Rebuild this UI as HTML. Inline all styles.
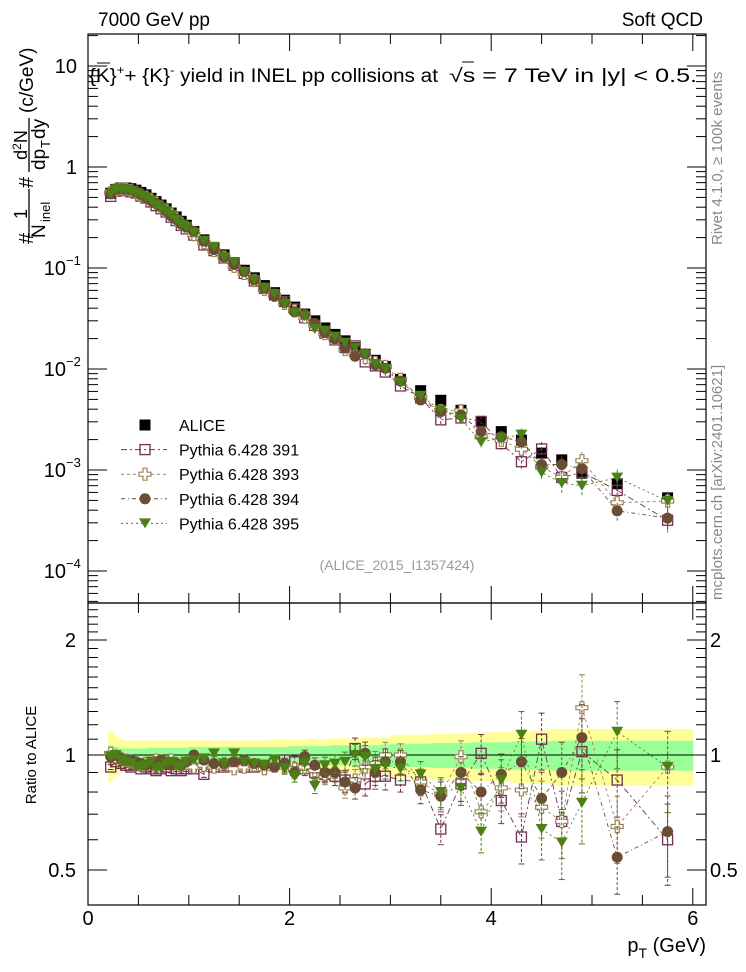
<!DOCTYPE html>
<html><head><meta charset="utf-8"><style>
html,body{margin:0;padding:0;background:#fff;}
svg{display:block;font-family:"Liberation Sans",sans-serif;}
</style></head><body>
<svg id="c" width="746" height="972" viewBox="0 0 746 972"></svg>
<script>
const pt=[0.225,0.275,0.325,0.375,0.425,0.475,0.525,0.575,0.625,0.675,0.725,0.775,0.825,0.875,0.925,0.975,
1.05,1.15,1.25,1.35,1.45,1.55,1.65,1.75,1.85,1.95,2.05,2.15,2.25,2.35,2.45,2.55,2.65,2.75,2.85,2.95,
3.1,3.3,3.5,3.7,3.9,4.1,4.3,4.5,4.7,4.9,5.25,5.75];
const alice=[0.55,0.60,0.62,0.62,0.61,0.59,0.56,0.53,0.49,0.455,0.42,0.385,0.35,0.32,0.29,0.265,
0.23,0.19,0.16,0.135,0.113,0.095,0.080,0.067,0.057,0.048,0.041,0.035,0.030,0.0255,0.022,0.019,0.0163,0.014,0.0122,0.0106,
0.0079,0.0061,0.0049,0.0039,0.0030,0.0024,0.00198,0.00147,0.00126,0.00093,0.00073,0.00053];
const r391=[0.93,0.96,0.95,0.94,0.93,0.94,0.92,0.93,0.92,0.91,0.92,0.93,0.91,0.92,0.91,0.92,
0.92,0.89,0.93,0.93,0.94,0.93,0.93,0.94,0.95,0.97,0.96,0.92,0.90,0.89,0.88,0.86,1.04,0.84,0.88,0.88,
0.86,0.85,0.64,0.84,1.01,0.76,0.61,1.10,0.67,1.02,0.86,0.60];
const r393=[1.01,0.99,0.98,0.97,0.96,0.95,0.94,0.95,0.96,0.97,0.95,0.96,0.97,0.95,0.94,0.95,
0.93,0.94,0.93,0.95,0.92,0.93,0.94,0.92,0.94,0.93,0.92,0.93,0.91,0.88,0.90,0.82,0.86,0.93,0.95,1.0,
1.0,0.85,0.79,0.99,0.71,0.82,0.81,0.73,0.67,1.33,0.65,0.93];
const r394=[0.99,1.0,0.98,0.97,0.97,0.96,0.95,0.94,0.95,0.96,0.97,0.95,0.94,0.95,0.94,0.96,
1.0,0.97,0.95,0.95,0.96,0.97,0.95,0.94,0.93,0.95,0.90,0.99,0.94,0.90,0.90,0.85,0.82,1.01,0.90,0.96,
0.96,0.81,0.78,0.90,0.80,0.89,0.96,0.77,0.90,1.11,0.54,0.63];
const r395=[0.99,1.0,0.97,0.96,0.95,0.93,0.93,0.94,0.96,0.92,0.93,0.95,0.96,0.94,0.93,0.96,
0.97,0.98,1.01,0.95,1.01,0.96,0.95,0.94,0.97,0.92,0.88,0.95,0.83,0.94,0.95,0.96,1.0,0.99,0.92,0.94,
0.92,0.89,0.80,0.82,0.63,0.86,1.13,0.64,0.59,0.75,1.15,0.93];
const mcErr=[0.015,0.012,0.012,0.012,0.012,0.012,0.012,0.012,0.013,0.013,0.013,0.014,0.014,0.015,0.015,0.016,
0.016,0.018,0.02,0.02,0.022,0.024,0.026,0.028,0.03,0.032,0.035,0.04,0.045,0.05,0.055,0.06,0.065,0.07,0.075,0.08,
0.07,0.08,0.09,0.1,0.12,0.13,0.15,0.17,0.2,0.22,0.2,0.24];
const bandTot=[0.15,0.12,0.10,0.09,0.09,0.09,0.09,0.09,0.09,0.09,0.09,0.09,0.09,0.09,0.09,0.09,
0.09,0.09,0.09,0.09,0.09,0.09,0.09,0.09,0.095,0.095,0.095,0.10,0.10,0.10,0.105,0.105,0.105,0.11,0.11,0.11,
0.13,0.13,0.135,0.14,0.145,0.15,0.155,0.16,0.17,0.17,0.17,0.17];
const bandStat=[0.06,0.05,0.04,0.04,0.04,0.04,0.04,0.04,0.045,0.045,0.045,0.045,0.045,0.045,0.045,0.045,
0.05,0.05,0.05,0.05,0.05,0.05,0.05,0.05,0.05,0.05,0.055,0.055,0.055,0.055,0.06,0.06,0.06,0.06,0.06,0.065,
0.07,0.07,0.075,0.075,0.08,0.08,0.085,0.085,0.09,0.09,0.09,0.09];
const edges=[0.2,0.25,0.3,0.35,0.4,0.45,0.5,0.55,0.6,0.65,0.7,0.75,0.8,0.85,0.9,0.95,1.0,
1.1,1.2,1.3,1.4,1.5,1.6,1.7,1.8,1.9,2.0,2.1,2.2,2.3,2.4,2.5,2.6,2.7,2.8,2.9,3.0,3.2,3.4,3.6,3.8,4.0,4.2,4.4,4.6,4.8,5.0,5.5,6.0];
const xTicks=[0,2,4,6];
const mainTickLabels=[["10",1],["1",0],["10",-1],["10",-2],["10",-3],["10",-4]];
const ratioTickLabels=[2,1,0.5];

const NS="http://www.w3.org/2000/svg";
const svg=document.getElementById('c');
function el(t,a,p){const e=document.createElementNS(NS,t);for(const k in a)e.setAttribute(k,a[k]);(p||svg).appendChild(e);return e;}
const X0=88,X1=706;
const sx=v=>88+v*100.8;
const MT=34,MB=603,RT=603,RB=905;
const sy=v=>167-Math.log10(v)*101;
const sr=v=>755-Math.log2(v)*115;
const cl=(y,a,b)=>Math.max(a,Math.min(b,y));

// bands
const gB=el('g',{});


for(let i=0;i<pt.length;i++){
  const x=sx(edges[i]),w=sx(edges[i+1])-x+0.5;
  const y1=sr(1+bandTot[i]),y2=sr(1-bandTot[i]);
  el('rect',{x:x,y:y1,width:w,height:y2-y1,fill:'#ffff99'},gB);
}
for(let i=0;i<pt.length;i++){
  const x=sx(edges[i]),w=sx(edges[i+1])-x+0.5;
  const y1=sr(1+bandStat[i]),y2=sr(1-bandStat[i]);
  el('rect',{x:x,y:y1,width:w,height:y2-y1,fill:'#99ff99'},gB);
}
el('line',{x1:X0,x2:sx(6),y1:sr(1),y2:sr(1),stroke:'#000','stroke-width':1},gB);

// frames
const fm=el('rect',{x:X0,y:MT,width:X1-X0,height:MB-MT,fill:'none',stroke:'#000','stroke-width':1.2});

const fr=el('rect',{x:X0,y:RT,width:X1-X0,height:RB-RT,fill:'none',stroke:'#000','stroke-width':1.2});


// x ticks
const gT=el('g',{stroke:'#000','stroke-width':1});

for(let v=0;v<=6.01;v+=0.5){
  const x=sx(v),L=(Math.abs(v/2-Math.round(v/2))<1e-6)?17:10;
  el('line',{x1:x,x2:x,y1:MB,y2:MB-L},gT);el('line',{x1:x,x2:x,y1:MT,y2:MT+L},gT);
  el('line',{x1:x,x2:x,y1:RB,y2:RB-L},gT);el('line',{x1:x,x2:x,y1:RT,y2:RT+L},gT);
}
// main y ticks
for(let d=-5;d<=1;d++){for(let m=1;m<=9;m++){const v=m*Math.pow(10,d),y=sy(v);if(y<MT||y>MB)continue;
  const L=m==1?19:10;el('line',{x1:X0,x2:X0+L,y1:y,y2:y},gT);el('line',{x1:X1,x2:X1-L,y1:y,y2:y},gT);}}
// ratio y ticks
for(let v=0.4;v<=2.55;v+=0.1){const y=sr(v);if(y<RT||y>RB)continue;
  const maj=[0.5,1,2].some(q=>Math.abs(q-v)<1e-6);const L=maj?19:10;
  el('line',{x1:X0,x2:X0+L,y1:y,y2:y},gT);el('line',{x1:X1,x2:X1-L,y1:y,y2:y},gT);}

// labels
function txt(s,a,name){const t=el('text',a);t.textContent=s;return t;}
xTicks.forEach(v=>txt(String(v),{x:sx(v),y:925,'font-size':20,'text-anchor':'middle'},'x-tick-label'));
mainTickLabels.forEach(([b,e])=>{const y=sy(Math.pow(10,e));
  if(e==0||e==1){txt(e==0?'1':'10',{x:77,y:y+7,'font-size':20,'text-anchor':'end'},'y-tick-label');}
  else{const t=txt('10',{x:66,y:y+7,'font-size':20,'text-anchor':'end'},'y-tick-label');
    txt('\u2212'+(-e),{x:66,y:y-3,'font-size':13,'text-anchor':'start'},'y-tick-exponent');}});
ratioTickLabels.forEach(v=>{const y=sr(v);
  txt(String(v),{x:76,y:y+7,'font-size':20,'text-anchor':'end'},'ratio-tick-label');
  txt(String(v),{x:710,y:y+7,'font-size':20,'text-anchor':'start'},'ratio-tick-label-right');});

txt('7000 GeV pp',{x:98,y:26,'font-size':19},'beam-label');
txt('Soft QCD',{x:703,y:26,'font-size':19,'text-anchor':'end'},'process-label');
const ti=txt('',{x:89,y:82,'font-size':19,textLength:349,lengthAdjust:'spacingAndGlyphs'},'plot-title');
ti.innerHTML='{K}<tspan dy="-8" font-size="12">+</tspan><tspan dy="8">+ {K}</tspan><tspan dy="-8" font-size="12">-</tspan><tspan dy="8"> yield in INEL pp collisions at</tspan>';
const ti2=txt('\u221As =  7 TeV in |y| < 0.5.',{x:449,y:82,'font-size':19,textLength:248,lengthAdjust:'spacingAndGlyphs'},'plot-title-energy');
el('line',{x1:97,x2:110,y1:63,y2:63,stroke:'#000','stroke-width':1});
el('line',{x1:462,x2:474,y1:62,y2:62,stroke:'#000','stroke-width':1});
txt('(ALICE_2015_I1357424)',{x:397,y:570,'font-size':14,'text-anchor':'middle',fill:'#999'},'analysis-id');
// y axis title pieces (rotated, reading bottom-to-top)
function rt(s,x,y,fs,name,anchor){const t=txt(s,{x:0,y:0,'font-size':fs,transform:`translate(${x},${y}) rotate(-90)`,'text-anchor':anchor||'start'},name);return t;}
rt('#',33,244,20,'y-axis-title');
rt('1',27,214,18,'y-axis-title','middle');
rt('N',45,238,19,'y-axis-title');
rt('inel',50,222,13,'y-axis-title');
rt('#',33,188,20,'y-axis-title');
const dn=rt('',27,145,18,'y-axis-title','middle');dn.innerHTML='d<tspan font-size="12" dy="-6">2</tspan><tspan dy="6">N</tspan>';
rt('dp',45,170,19,'y-axis-title');
rt('T',50,148,13,'y-axis-title');
rt('dy',45,139,19,'y-axis-title');
rt('(c/GeV)',33,113,19,'y-axis-title');
el('line',{x1:29,x2:29,y1:189,y2:238,stroke:'#000','stroke-width':1.3});
el('line',{x1:29,x2:29,y1:118,y2:172,stroke:'#000','stroke-width':1.3});
txt('Ratio to ALICE',{x:0,y:0,'font-size':15,transform:'translate(36,755) rotate(-90)','text-anchor':'middle'},'ratio-axis-title');
const xl=txt('',{x:706,y:952,'font-size':20,'text-anchor':'end'},'x-axis-title');
xl.innerHTML='p<tspan font-size="14" dy="6">T</tspan><tspan dy="-6"> (GeV)</tspan>';
txt('Rivet 4.1.0, \u2265 100k events',{x:0,y:0,'font-size':15,fill:'#888',transform:'translate(722,245) rotate(-90)'},'rivet-version');
txt('mcplots.cern.ch [arXiv:2401.10621]',{x:0,y:0,'font-size':15,fill:'#888',transform:'translate(722,600) rotate(-90)'},'mcplots-credit');

// markers
function marker(kind,x,y,col,g){
  if(kind=='sq')el('rect',{x:x-5,y:y-5,width:10,height:10,fill:'none',stroke:col,'stroke-width':1.3},g);
  else if(kind=='fsq')el('rect',{x:x-5.5,y:y-5.5,width:11,height:11,fill:col},g);
  else if(kind=='cross')el('path',{d:`M${x-2},${y-6}h4v4h4v4h-4v4h-4v-4h-4v-4h4z`,fill:'#fff',stroke:col,'stroke-width':1.2},g);
  else if(kind=='circ')el('circle',{cx:x,cy:y,r:5.5,fill:col},g);
  else if(kind=='tri')el('path',{d:`M${x-6},${y-5}h12l-6,10z`,fill:col},g);
}
const series=[[r391,'#703050','sq','pythia-391','6 3 2 3'],[r393,'#9c8458','cross','pythia-393','3 3'],[r394,'#6b4c35','circ','pythia-394','4 3 1 3'],[r395,'#4c7f16','tri','pythia-395','2 3']];
const gA=el('g',{});
pt.forEach((p,i)=>marker('fsq',sx(p),sy(alice[i]),'#000',gA));
series.forEach(([r,col,k,name,da])=>{
  const g=el('g',{});
  const gr=el('g',{});
  const pm=pt.map((p,i)=>`${sx(p)},${sy(alice[i]*r[i])}`).join(' ');
  el('polyline',{points:pm,fill:'none',stroke:col,'stroke-width':0.9,'stroke-dasharray':da},g);
  const pr=pt.map((p,i)=>`${sx(p)},${sr(r[i])}`).join(' ');
  el('polyline',{points:pr,fill:'none',stroke:col,'stroke-width':0.9,'stroke-dasharray':da},gr);
  pt.forEach((p,i)=>{
    const x=sx(p),v=alice[i]*r[i],e=mcErr[i];
    el('line',{x1:x,x2:x,y1:sy(v*(1+e)),y2:sy(v*(1-e)),stroke:col,'stroke-width':1,'stroke-dasharray':'3 2'},g);
    marker(k,x,sy(v),col,g);
    const y1=cl(sr(r[i]*(1+e)),RT,RB),y2=cl(sr(r[i]*(1-e)),RT,RB);
    el('line',{x1:x,x2:x,y1:y1,y2:y2,stroke:col,'stroke-width':1,'stroke-dasharray':'3 2'},gr);
    el('line',{x1:x-3,x2:x+3,y1:y1,y2:y1,stroke:col,'stroke-width':1},gr);
    el('line',{x1:x-3,x2:x+3,y1:y2,y2:y2,stroke:col,'stroke-width':1},gr);
    marker(k,x,sr(r[i]),col,gr);
  });
});

// legend
const gL=el('g',{});
const labels=['ALICE','Pythia 6.428 391','Pythia 6.428 393','Pythia 6.428 394','Pythia 6.428 395'];
labels.forEach((s,i)=>{
  const y=425+i*24.6;
  const e=el('g',{},gL);
  if(i==0)marker('fsq',145,y,'#000',e);
  else{const [,col,k,,da]=series[i-1];
    el('line',{x1:121,x2:167,y1:y,y2:y,stroke:col,'stroke-width':1,'stroke-dasharray':da},e);marker(k,145,y,col,e);}
  const t=el('text',{x:179,y:y+6,'font-size':16},e);t.textContent=s;
});
</script>
</body></html>
